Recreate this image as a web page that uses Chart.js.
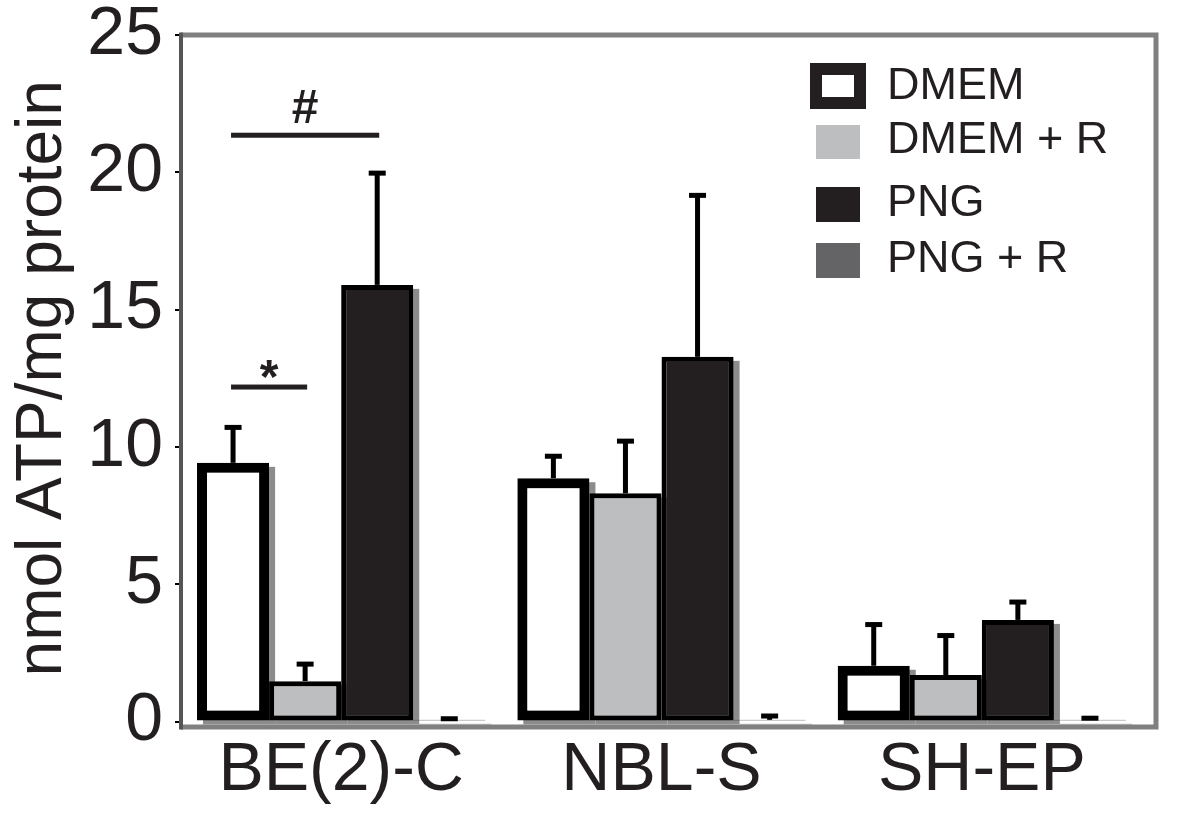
<!DOCTYPE html>
<html>
<head>
<meta charset="utf-8">
<title>ATP content</title>
<script src="https://cdn.jsdelivr.net/npm/chart.js@4.4.1/dist/chart.umd.min.js"></script>
<style>
    html, body { margin: 0; padding: 0; background: #fff; }
    #wrap { width: 1200px; height: 815px; position: relative; }
</style>
</head>
<body>
<div id="wrap"><canvas id="chart"></canvas></div>
<script>
// Data
const cellLines = ['BE(2)-C', 'NBL-S', 'SH-EP'];
const seriesNames = ['DMEM', 'DMEM + R', 'PNG', 'PNG + R'];
const dmem = [9.42, 8.86, 2.03];
const dmemR = [1.47, 8.31, 1.69];
const png = [15.90, 13.28, 3.70];
const pngR = [0.06, 0.06, 0.06];
// top of each error bar (mean + SD)
const dmemErr = [10.71, 9.66, 3.53];
const dmemRErr = [2.09, 10.21, 3.13];
const pngErr = [19.97, 19.16, 4.35];
const pngRErr = [0.10, 0.20, 0.12];
const yTicks = [0, 5, 10, 15, 20, 25];
const yTitle = 'nmol ATP/mg protein';

// significance marks: label, group, from series, to series, level
const sigLabels = ['*', '#'];
const sigGroup = [0, 0];
const sigFrom = [0, 0];
const sigTo = [1, 2];
const sigLevel = [12.18, 21.35];

const errors = [dmemErr, dmemRErr, pngErr, pngRErr];
const textColor = '#231f20';
const font = "'Liberation Sans', Arial, Helvetica, sans-serif";

// gray frame + drop shadows under the bars
const framePlugin = {
    id: 'frame',
    beforeDatasetsDraw(chart) {
        const ctx = chart.ctx;
        const a = chart.chartArea;
        ctx.save();
        ctx.strokeStyle = '#808080';
        ctx.lineWidth = 5;
        ctx.beginPath();
        ctx.moveTo(a.left, a.top);
        ctx.lineTo(a.right + 14, a.top);
        ctx.lineTo(a.right + 14, a.bottom + 5.5);
        ctx.lineTo(a.left, a.bottom + 5.5);
        ctx.stroke();
        ctx.strokeStyle = '#555';
        ctx.lineWidth = 4;
        ctx.beginPath();
        ctx.moveTo(a.left, a.top - 2.5);
        ctx.lineTo(a.left, a.bottom + 8);
        ctx.stroke();

        ctx.fillStyle = '#8c8c8c';
        chart.data.datasets.forEach((ds, i) => {
            chart.getDatasetMeta(i).data.forEach(el => {
                const p = el.getProps(['x', 'y', 'base', 'width'], true);
                ctx.fillRect(p.x - p.width / 2 + 6, p.y + 4, p.width, p.base - p.y);
            });
        });
        ctx.restore();
    }
};

// error bars, significance lines, legend
const overlayPlugin = {
    id: 'overlay',
    afterDatasetsDraw(chart) {
        const ctx = chart.ctx;
        const y = chart.scales.y;
        ctx.save();
        ctx.fillStyle = '#000';
        chart.data.datasets.forEach((ds, i) => {
            chart.getDatasetMeta(i).data.forEach((el, j) => {
                const p = el.getProps(['x', 'y'], true);
                const top = y.getPixelForValue(errors[i][j]);
                ctx.fillRect(p.x - 2.5, top, 5, p.y - top);
                ctx.fillRect(p.x - 8.5, top - 2.5, 17, 5);
            });
        });

        // significance bars
        sigLabels.forEach((lab, k) => {
            const x1 = chart.getDatasetMeta(sigFrom[k]).data[sigGroup[k]].x;
            const x2 = chart.getDatasetMeta(sigTo[k]).data[sigGroup[k]].x;
            const ly = y.getPixelForValue(sigLevel[k]);
            ctx.fillStyle = textColor;
            ctx.fillRect(x1 - 2, ly - 2.5, x2 - x1 + 4, 5);
            ctx.font = 'bold 48px ' + font;
            ctx.textAlign = 'center';
            ctx.textBaseline = 'alphabetic';
            ctx.fillText(lab, (x1 + x2) / 2, lab === '*' ? ly + 6 : ly - 12);
        });

        // legend
        const boxes = [[810, 63, 56, 46], [816, 125, 44, 34], [816, 187, 44, 35], [816, 243, 44, 35]];
        const textY = [87, 141, 204, 260];
        seriesNames.forEach((name, i) => {
            const ds = chart.data.datasets[i];
            const b = boxes[i];
            if (i === 0) {
                ctx.fillStyle = '#231f20';
                ctx.fillRect(b[0], b[1], b[2], b[3]);
                ctx.fillStyle = '#fff';
                ctx.fillRect(b[0] + 12, b[1] + 12, b[2] - 24, b[3] - 24);
            } else {
                ctx.fillStyle = ds.backgroundColor;
                ctx.fillRect(b[0], b[1], b[2], b[3]);
            }
            ctx.fillStyle = textColor;
            ctx.font = '45px ' + font;
            ctx.textAlign = 'left';
            ctx.textBaseline = 'middle';
            ctx.fillText(name, 887, textY[i]);
        });
        ctx.restore();
    }
};

new Chart(document.getElementById('chart'), {
    type: 'bar',
    data: {
        labels: cellLines,
        datasets: [
            { label: seriesNames[0], data: dmem, backgroundColor: '#ffffff', borderColor: '#000', borderWidth: 10 },
            { label: seriesNames[1], data: dmemR, backgroundColor: '#bcbec0', borderColor: '#000', borderWidth: 5 },
            { label: seriesNames[2], data: png, backgroundColor: '#231f20', borderColor: '#000', borderWidth: 5 },
            { label: seriesNames[3], data: pngR, backgroundColor: '#646466', borderColor: '#333', borderWidth: 1 }
        ]
    },
    options: {
        responsive: true,
        maintainAspectRatio: false,
        animation: false,
        devicePixelRatio: 1,
        layout: { padding: { top: 35, right: 58, bottom: 0, left: 0 } },
        datasets: {
            bar: { categoryPercentage: 0.9, barPercentage: 1.0, borderSkipped: false }
        },
        plugins: {
            legend: { display: false },
            tooltip: { enabled: false }
        },
        scales: {
            x: {
                grid: { display: false, drawTicks: false },
                border: { display: false },
                ticks: {
                    color: textColor,
                    padding: 9,
                    font: { family: font, size: 68 }
                },
                afterFit(s) { s.height = 93.5; }
            },
            y: {
                min: 0,
                max: 25,
                afterBuildTicks(s) { s.ticks = yTicks.map(v => ({ value: v })); },
                grid: { drawOnChartArea: false, tickLength: 6, color: '#000', lineWidth: 2 },
                border: { display: false },
                ticks: {
                    color: textColor,
                    padding: 12,
                    font: { family: font, size: 68, lineHeight: 0.6 }
                },
                title: {
                    display: true,
                    text: yTitle,
                    color: textColor,
                    padding: { top: 5, bottom: 0 },
                    font: { family: font, size: 64 }
                },
                afterFit(s) { s.width = 181; }
            }
        }
    },
    plugins: [framePlugin, overlayPlugin]
});
</script>
</body>
</html>
